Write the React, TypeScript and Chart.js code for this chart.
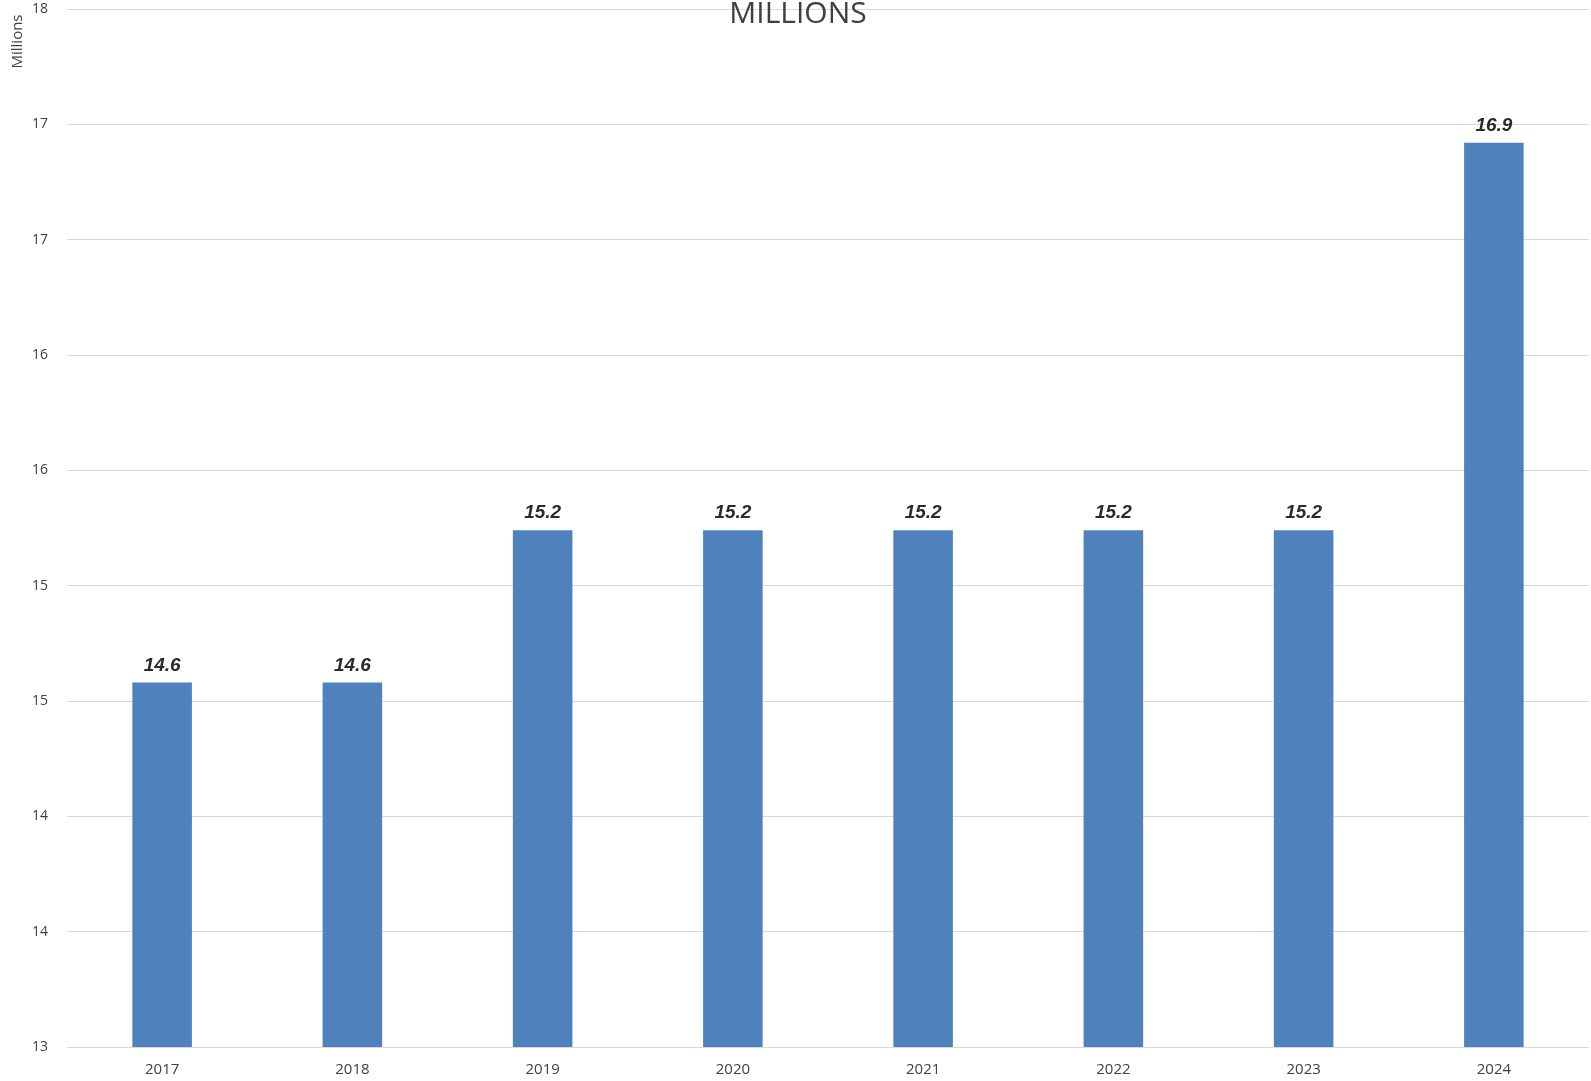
import React, { useEffect, useRef } from "react";
import { Chart, registerables } from "chart.js";

Chart.register(...registerables);

const categories = ["2017", "2018", "2019", "2020", "2021", "2022", "2023", "2024"];
const seriesValues = [14.58, 14.58, 15.24, 15.24, 15.24, 15.24, 15.24, 16.92];
const yMin = 13;
const yMax = 17.5;
const yStep = 0.5;
const chartTitle = "MILLIONS";
const yAxisTitle = "Millions";

const FONT = '"Open Sans", "Noto Sans", sans-serif';

const decorPlugin = {
  id: "decor",
  afterDatasetsDraw(chart: any) {
    const ctx = chart.ctx;
    const meta = chart.getDatasetMeta(0);
    ctx.save();
    ctx.font = 'italic bold 19px "Liberation Sans", Arial, sans-serif';
    ctx.fillStyle = "#2b2b2b";
    ctx.textAlign = "center";
    ctx.textBaseline = "alphabetic";
    meta.data.forEach((bar: any, i: number) => {
      ctx.fillText(seriesValues[i].toFixed(1), bar.x, bar.y - 12);
    });
    ctx.restore();
  },
  afterDraw(chart: any) {
    const ctx = chart.ctx;
    ctx.save();
    ctx.font = `30px ${FONT}`;
    ctx.fillStyle = "#404040";
    ctx.textAlign = "center";
    ctx.textBaseline = "alphabetic";
    ctx.fillText(chartTitle, 798, 23);
    ctx.translate(18, 41.5);
    ctx.rotate(-Math.PI / 2);
    ctx.font = `15px ${FONT}`;
    ctx.fillStyle = "#404040";
    ctx.textBaseline = "middle";
    ctx.fillText(yAxisTitle, 0, 0);
    ctx.restore();
  },
};

export default function App() {
  const ref = useRef<HTMLCanvasElement | null>(null);
  useEffect(() => {
    if (!ref.current) return;
    const chart = new Chart(ref.current, {
      type: "bar",
      data: {
        labels: categories,
        datasets: [
          {
            data: seriesValues,
            backgroundColor: "#4F81BD",
            categoryPercentage: 1,
            barPercentage: 0.313,
          },
        ],
      },
      options: {
        responsive: true,
        maintainAspectRatio: false,
        animation: false,
        layout: { padding: { top: 9, right: 2, left: 0, bottom: 0 } },
        plugins: {
          legend: { display: false },
          tooltip: { enabled: false },
          title: { display: false },
        },
        scales: {
          x: {
            grid: { display: false },
            border: { display: false },
            ticks: {
              font: { family: FONT, size: 15 },
              color: "#404040",
              padding: 6,
            },
            afterFit: (s: any) => {
              s.height = 34;
              s.paddingLeft = 0;
              s.paddingRight = 0;
            },
          },
          y: {
            min: yMin,
            max: yMax,
            grid: { color: "#d9d9d9", drawTicks: false },
            border: { display: false },
            ticks: {
              stepSize: yStep,
              font: { family: FONT, size: 14 },
              color: "#404040",
              padding: 19,
              callback: (v: any) => Math.round(Number(v)).toString(),
            },
            afterFit: (s: any) => {
              s.width = 67;
              s.paddingTop = 0;
              s.paddingBottom = 0;
            },
          },
        },
      },
      plugins: [decorPlugin],
    });
    return () => chart.destroy();
  }, []);
  return (
    <div style={{ position: "fixed", left: 0, top: 0, width: 1591, height: 1081 }}>
      <canvas ref={ref} />
    </div>
  );
}
